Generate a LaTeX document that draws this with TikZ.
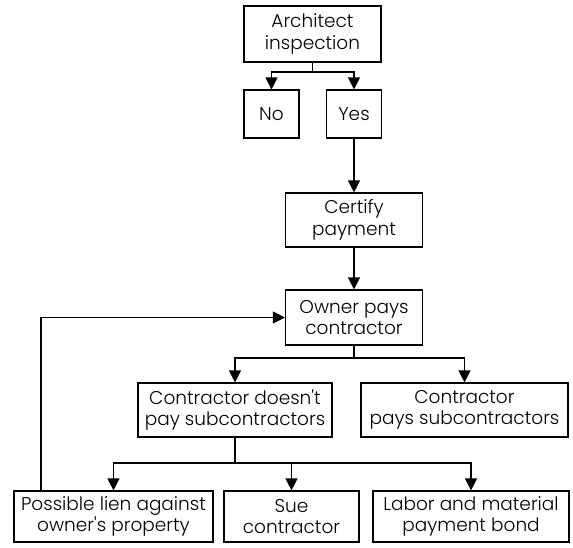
\documentclass[tikz,border=0pt]{standalone}
\usepackage{fontspec}
\setmainfont{Poppins}[UprightFont=* Light]
\usetikzlibrary{arrows.meta}

\tikzset{
  box/.style={draw, line width=1.2pt, align=center, inner sep=0pt,
    font=\fontsize{18.5}{21.5}\selectfont},
  link/.style={line width=1.2pt},
  arr/.style={line width=1.2pt, -{Triangle[length=12pt,width=12pt]}}
}

\begin{document}
\begin{tikzpicture}[x=1pt,y=-1pt]
  \useasboundingbox (0,0) rectangle (573,547);

  % top: inspection and its two outcomes
  \node[box, minimum width=137pt, minimum height=56pt] (arch) at (312.5,34) {Architect\\inspection};
  \node[box, minimum width=55pt, minimum height=48pt] (no) at (271.5,114) {No};
  \node[box, minimum width=55pt, minimum height=48pt] (yes) at (354,114) {Yes};

  % payment chain
  \node[box, minimum width=137pt, minimum height=54pt] (cert) at (354,220) {Certify\\payment};
  \node[box, minimum width=137pt, minimum height=55pt] (owner) at (354,317.5) {Owner pays\\contractor};

  % contractor branch
  \node[box, minimum width=194pt, minimum height=54pt] (cnot) at (235,410) {Contractor doesn\textquotesingle t\\pay subcontractors};
  \node[box, minimum width=207pt, minimum height=54pt] (cpay) at (464.5,410) {Contractor\\pays subcontractors};

  % remedies
  \node[box, minimum width=199pt, minimum height=51pt] (lien) at (113.5,516.5) {Possible lien against\\owner\textquotesingle s property};
  \node[box, minimum width=135pt, minimum height=51pt] (sue) at (291.5,516.5) {Sue\\contractor};
  \node[box, minimum width=196pt, minimum height=51pt] (bond) at (471,516.5) {Labor and material\\payment bond};

  % junction points
  \coordinate (j1) at (312.5,72);
  \coordinate (j2) at (354,358);
  \coordinate (j3) at (235,463);

  \draw[link] (arch.south) -- (j1);
  \draw[arr] (j1) -| (no.north);
  \draw[arr] (j1) -| (yes.north);
  \draw[arr] (yes.south) -- (cert.north);
  \draw[arr] (cert.south) -- (owner.north);

  \draw[link] (owner.south) -- (j2);
  \draw[arr] (j2) -| (cnot.north);
  \draw[arr] (j2) -| (cpay.north);

  \draw[link] (cnot.south) -- (j3);
  \draw[arr] (j3) -| (lien.north);
  \draw[arr] (j3) -| (sue.north);
  \draw[arr] (j3) -| (bond.north);

  % lien feeds back to the owner
  \draw[arr] ([xshift=-72.5pt]lien.north) |- (owner.west);
\end{tikzpicture}
\end{document}
